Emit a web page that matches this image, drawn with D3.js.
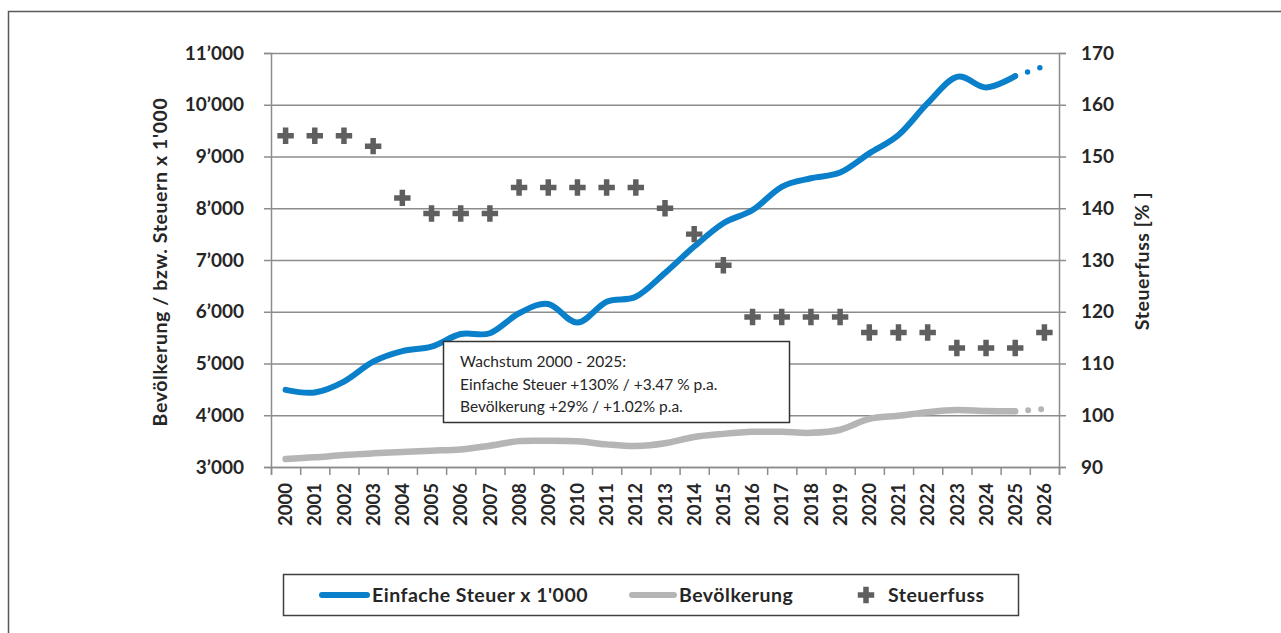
<!DOCTYPE html>
<html>
<head>
<meta charset="utf-8">
<script src="https://cdn.jsdelivr.net/npm/d3@7"></script>
<style>
  body { margin: 0; background: #fff; }
  text { font-family: Lato, "Open Sans", sans-serif; fill: #262626; }
</style>
</head>
<body>
<div id="graph"></div>
<script>
// data
var years = ["2000","2001","2002","2003","2004","2005","2006","2007","2008","2009","2010","2011","2012","2013",
             "2014","2015","2016","2017","2018","2019","2020","2021","2022","2023","2024","2025","2026"];
var steuer = [4490,4440,4650,5035,5240,5325,5570,5585,5970,6150,5790,6195,6290,6750,
              7260,7710,7965,8415,8580,8690,9060,9415,10030,10540,10335,10555,10745];
var bevoelkerung = [3155,3187,3232,3264,3290,3315,3340,3411,3500,3507,3496,3437,3406,3460,
                    3580,3640,3680,3680,3660,3720,3930,3990,4060,4100,4080,4075,4120];
var steuerfuss = [154,154,154,152,142,139,139,139,144,144,144,144,144,140,
                  135,129,119,119,119,119,116,116,116,113,113,113,116];
var leftTicks = [3000,4000,5000,6000,7000,8000,9000,10000,11000];
var rightTicks = [90,100,110,120,130,140,150,160,170];
var noteLines = ["Wachstum 2000 - 2025:", "Einfache Steuer +130% / +3.47 % p.a.", "Bevölkerung +29% / +1.02% p.a."];

var width = 1281, height = 633;
var plotL = 271, plotR = 1059, plotT = 53, plotB = 467;

var svg = d3.select("#graph").append("svg")
    .attr("width", width)
    .attr("height", height);

// outer frame
svg.append("rect")
    .attr("x", 8.5).attr("y", 11.5)
    .attr("width", 1290).attr("height", 640)
    .attr("fill", "none").attr("stroke", "#595959").attr("stroke-width", 1.5);

var x = d3.scaleBand().domain(years).range([plotL, plotR]);
var xIdx = d3.scaleLinear().domain([0, years.length]).range([plotL, plotR]);
var yL = d3.scaleLinear().domain([3000, 11000]).range([plotB, plotT]);
var yR = d3.scaleLinear().domain([90, 170]).range([plotB, plotT]);
function cx(d){ return x(d) + x.bandwidth() / 2; }

var fmt = function(d){ return d3.format(",")(d).replace(",", "\u2019"); };

// gridlines
svg.append("g")
    .attr("transform", "translate(" + plotL + ",0)")
    .call(d3.axisLeft(yL).tickValues(leftTicks).tickSize(-(plotR - plotL)).tickFormat(""))
    .call(function(g){
      g.select(".domain").remove();
      g.selectAll("line").attr("stroke", "#8c8c8c").attr("stroke-width", 1.5);
    });

// left axis
svg.append("g")
    .attr("transform", "translate(" + plotL + ",0)")
    .call(d3.axisLeft(yL).tickValues(leftTicks).tickSize(7).tickPadding(20).tickFormat(fmt))
    .call(function(g){
      g.select(".domain").attr("stroke", "#8c8c8c").attr("stroke-width", 1.5);
      g.selectAll("line").attr("stroke", "#8c8c8c").attr("stroke-width", 1.5);
      g.selectAll("text").style("font-size", "19px").style("font-weight", "bold").attr("fill", "#262626");
    });

// right axis
svg.append("g")
    .attr("transform", "translate(" + plotR + ",0)")
    .call(d3.axisRight(yR).tickValues(rightTicks).tickSize(7).tickPadding(15))
    .call(function(g){
      g.select(".domain").attr("stroke", "#8c8c8c").attr("stroke-width", 1.5);
      g.selectAll("line").attr("stroke", "#8c8c8c").attr("stroke-width", 1.5);
      g.selectAll("text").style("font-size", "19px").style("font-weight", "bold").attr("fill", "#262626");
    });

// bottom axis: ticks between categories
svg.append("g")
    .attr("transform", "translate(0," + plotB + ")")
    .call(d3.axisBottom(xIdx).tickValues(d3.range(years.length + 1)).tickSize(8).tickFormat(""))
    .call(function(g){
      g.select(".domain").attr("stroke", "#8c8c8c").attr("stroke-width", 1.5);
      g.selectAll("line").attr("stroke", "#8c8c8c").attr("stroke-width", 1.5);
    });

svg.append("g")
    .attr("transform", "translate(0," + plotB + ")")
    .call(d3.axisBottom(x).tickSize(0))
    .call(function(g){
      g.select(".domain").remove();
      g.selectAll("text")
        .attr("transform", "rotate(-90)")
        .attr("text-anchor", "end")
        .attr("x", -16).attr("y", 0).attr("dy", "0.36em")
        .style("font-size", "18.5px").style("font-weight", "bold").attr("fill", "#262626");
    });

// axis titles
svg.append("text")
    .attr("transform", "translate(167,262) rotate(-90)")
    .attr("text-anchor", "middle")
    .style("font-size", "19.5px").style("font-weight", "bold").style("letter-spacing", "0.6px")
    .text("Bevölkerung / bzw. Steuern x 1'000");

svg.append("text")
    .attr("transform", "translate(1149,261) rotate(-90)")
    .attr("text-anchor", "middle")
    .style("font-size", "19.5px").style("font-weight", "bold").style("letter-spacing", "0.6px")
    .text("Steuerfuss [% ]");

// lines
var idx = d3.range(years.length);
var solid = idx.slice(0, years.length - 1);
var proj = idx.slice(years.length - 2);

function lineFor(vals){
  return d3.line()
    .x(function(i){ return cx(years[i]); })
    .y(function(i){ return yL(vals[i]); })
    .curve(d3.curveCatmullRom.alpha(0));
}

var series = [[bevoelkerung, "#b5b5b5", 6.5], [steuer, "#0a7fca", 6]];
series.forEach(function(s){
  svg.append("path")
    .attr("d", lineFor(s[0])(solid))
    .attr("fill", "none").attr("stroke", s[1]).attr("stroke-width", s[2])
    .attr("stroke-linecap", "round").attr("stroke-linejoin", "round");
  svg.append("path")
    .attr("d", d3.line().x(function(i){ return cx(years[i]); }).y(function(i){ return yL(s[0][i]); })(proj))
    .attr("fill", "none").attr("stroke", s[1]).attr("stroke-width", s[2] - 0.5)
    .attr("stroke-linecap", "round").attr("stroke-dasharray", "0,13");
});

// Steuerfuss markers
svg.append("g").selectAll("path")
    .data(steuerfuss)
    .enter()
    .append("path")
    .attr("transform", function(d, i){ return "translate(" + cx(years[i]) + "," + yR(d) + ")"; })
    .attr("d", d3.symbol().type(d3.symbolCross).size(150))
    .attr("fill", "#5f5f5f");

// annotation box
var note = svg.append("g");
note.append("rect")
    .attr("x", 443.5).attr("y", 341.5).attr("width", 346).attr("height", 81)
    .attr("fill", "#fff").attr("stroke", "#333").attr("stroke-width", 1.5);
note.selectAll("text")
    .data(noteLines)
    .enter()
    .append("text")
    .attr("x", 460)
    .attr("y", function(d, i){ return 367 + i * 22.5; })
    .style("font-size", "15.5px")
    .text(function(d){ return d; });

// legend
var legend = svg.append("g");
legend.append("rect")
    .attr("x", 283.5).attr("y", 574.5).attr("width", 735).attr("height", 41)
    .attr("fill", "#fff").attr("stroke", "#404040").attr("stroke-width", 1.5);
var legItems = [["Einfache Steuer x 1'000", "#0a7fca", 322, 372], ["Bevölkerung", "#b5b5b5", 632, 679]];
legItems.forEach(function(l){
  legend.append("line")
    .attr("x1", l[2]).attr("x2", l[3] - 5).attr("y1", 595).attr("y2", 595)
    .attr("stroke", l[1]).attr("stroke-width", 6).attr("stroke-linecap", "round");
  legend.append("text")
    .attr("x", l[3]).attr("y", 602)
    .style("font-size", "19.5px").style("font-weight", "bold").style("letter-spacing", "0.5px")
    .text(l[0]);
});
legend.append("path")
    .attr("transform", "translate(866,595)")
    .attr("d", d3.symbol().type(d3.symbolCross).size(150))
    .attr("fill", "#5f5f5f");
legend.append("text")
    .attr("x", 888).attr("y", 602)
    .style("font-size", "19.5px").style("font-weight", "bold").style("letter-spacing", "0.5px")
    .text("Steuerfuss");
</script>
</body>
</html>
